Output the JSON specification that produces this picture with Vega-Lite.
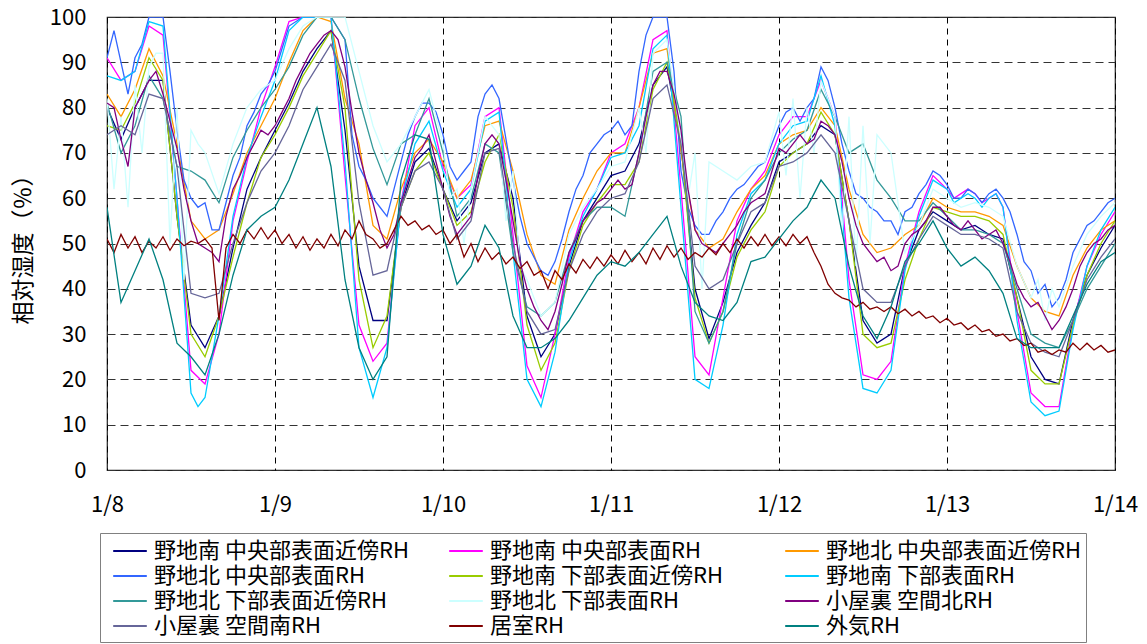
{
"$schema": "https://vega.github.io/schema/vega-lite/v6.json",
"width": 1008,
"height": 453,
"autosize": {"type": "none"},
"padding": {"left": 107, "top": 17, "right": 32, "bottom": 174},
"background": "#ffffff",
"config": {"font": "Noto Sans CJK JP", "view": {"stroke": "#222222", "strokeWidth": 1.2}, "axis": {"titleFontSize": 23, "labelFontSize": 22}},
"datasets": {
"names": [
{"k":"A","name":"野地南 中央部表面近傍RH"},
{"k":"B","name":"野地南 中央部表面RH"},
{"k":"C","name":"野地北 中央部表面近傍RH"},
{"k":"D","name":"野地北 中央部表面RH"},
{"k":"E","name":"野地南 下部表面近傍RH"},
{"k":"F","name":"野地南 下部表面RH"},
{"k":"G","name":"野地北 下部表面近傍RH"},
{"k":"H","name":"野地北 下部表面RH"},
{"k":"I","name":"小屋裏 空間北RH"},
{"k":"J","name":"小屋裏 空間南RH"},
{"k":"K","name":"居室RH"},
{"k":"L","name":"外気RH"}
]
},
"data": {"values": [
{"k":"A","t":0,"v":80},{"k":"A","t":2,"v":73},{"k":"A","t":4,"v":80},{"k":"A","t":6,"v":86},{"k":"A","t":8,"v":86},{"k":"A","t":10,"v":56},{"k":"A","t":12,"v":32},{"k":"A","t":14,"v":27},{"k":"A","t":16,"v":34},{"k":"A","t":18,"v":49},{"k":"A","t":20,"v":62},{"k":"A","t":22,"v":69},
{"k":"A","t":24,"v":75},{"k":"A","t":26,"v":81},{"k":"A","t":28,"v":88},{"k":"A","t":30,"v":93},{"k":"A","t":32,"v":97},{"k":"A","t":34,"v":75},{"k":"A","t":36,"v":45},{"k":"A","t":38,"v":33},{"k":"A","t":40,"v":33},{"k":"A","t":42,"v":58},{"k":"A","t":44,"v":68},{"k":"A","t":46,"v":71},
{"k":"A","t":48,"v":62},{"k":"A","t":50,"v":55},{"k":"A","t":52,"v":59},{"k":"A","t":54,"v":70},{"k":"A","t":56,"v":72},{"k":"A","t":58,"v":60},{"k":"A","t":60,"v":34},{"k":"A","t":62,"v":25},{"k":"A","t":64,"v":30},{"k":"A","t":66,"v":45},{"k":"A","t":68,"v":55},{"k":"A","t":70,"v":60},
{"k":"A","t":72,"v":65},{"k":"A","t":74,"v":66},{"k":"A","t":76,"v":72},{"k":"A","t":78,"v":85},{"k":"A","t":80,"v":89},{"k":"A","t":82,"v":72},{"k":"A","t":84,"v":40},{"k":"A","t":86,"v":29},{"k":"A","t":88,"v":37},{"k":"A","t":90,"v":48},{"k":"A","t":92,"v":54},{"k":"A","t":94,"v":59},
{"k":"A","t":96,"v":68},{"k":"A","t":98,"v":70},{"k":"A","t":100,"v":72},{"k":"A","t":102,"v":76},{"k":"A","t":104,"v":74},{"k":"A","t":106,"v":55},{"k":"A","t":108,"v":33},{"k":"A","t":110,"v":28},{"k":"A","t":112,"v":30},{"k":"A","t":114,"v":45},{"k":"A","t":116,"v":53},{"k":"A","t":118,"v":57},
{"k":"A","t":120,"v":55},{"k":"A","t":122,"v":53},{"k":"A","t":124,"v":54},{"k":"A","t":126,"v":52},{"k":"A","t":128,"v":51},{"k":"A","t":130,"v":38},{"k":"A","t":132,"v":25},{"k":"A","t":134,"v":20},{"k":"A","t":136,"v":19},{"k":"A","t":138,"v":33},{"k":"A","t":140,"v":43},{"k":"A","t":142,"v":49},{"k":"A","t":144,"v":54},

{"k":"B","t":0,"v":91},{"k":"B","t":2,"v":86},{"k":"B","t":4,"v":88},{"k":"B","t":6,"v":98},{"k":"B","t":8,"v":96},{"k":"B","t":10,"v":60},{"k":"B","t":12,"v":22},{"k":"B","t":14,"v":19},{"k":"B","t":16,"v":30},{"k":"B","t":18,"v":55},{"k":"B","t":20,"v":68},{"k":"B","t":22,"v":80},
{"k":"B","t":24,"v":89},{"k":"B","t":26,"v":99},{"k":"B","t":28,"v":100},{"k":"B","t":30,"v":100},{"k":"B","t":32,"v":100},{"k":"B","t":34,"v":65},{"k":"B","t":36,"v":32},{"k":"B","t":38,"v":24},{"k":"B","t":40,"v":28},{"k":"B","t":42,"v":59},{"k":"B","t":44,"v":76},{"k":"B","t":46,"v":80},
{"k":"B","t":48,"v":67},{"k":"B","t":50,"v":60},{"k":"B","t":52,"v":63},{"k":"B","t":54,"v":78},{"k":"B","t":56,"v":80},{"k":"B","t":58,"v":52},{"k":"B","t":60,"v":23},{"k":"B","t":62,"v":16},{"k":"B","t":64,"v":30},{"k":"B","t":66,"v":47},{"k":"B","t":68,"v":57},{"k":"B","t":70,"v":62},
{"k":"B","t":72,"v":70},{"k":"B","t":74,"v":72},{"k":"B","t":76,"v":80},{"k":"B","t":78,"v":95},{"k":"B","t":80,"v":97},{"k":"B","t":82,"v":62},{"k":"B","t":84,"v":25},{"k":"B","t":86,"v":21},{"k":"B","t":88,"v":38},{"k":"B","t":90,"v":55},{"k":"B","t":92,"v":62},{"k":"B","t":94,"v":66},
{"k":"B","t":96,"v":74},{"k":"B","t":98,"v":78},{"k":"B","t":100,"v":78},{"k":"B","t":102,"v":86},{"k":"B","t":104,"v":78},{"k":"B","t":106,"v":42},{"k":"B","t":108,"v":21},{"k":"B","t":110,"v":20},{"k":"B","t":112,"v":24},{"k":"B","t":114,"v":45},{"k":"B","t":116,"v":57},{"k":"B","t":118,"v":65},
{"k":"B","t":120,"v":62},{"k":"B","t":121,"v":60},{"k":"B","t":122,"v":61},{"k":"B","t":123,"v":62},{"k":"B","t":124,"v":61},{"k":"B","t":125,"v":59},{"k":"B","t":126,"v":60},{"k":"B","t":127,"v":61},{"k":"B","t":128,"v":58},{"k":"B","t":130,"v":35},{"k":"B","t":132,"v":17},{"k":"B","t":134,"v":14},{"k":"B","t":136,"v":14},{"k":"B","t":138,"v":32},{"k":"B","t":140,"v":45},{"k":"B","t":142,"v":52},{"k":"B","t":144,"v":57},

{"k":"C","t":0,"v":83},{"k":"C","t":2,"v":78},{"k":"C","t":4,"v":84},{"k":"C","t":6,"v":93},{"k":"C","t":8,"v":87},{"k":"C","t":10,"v":72},{"k":"C","t":12,"v":55},{"k":"C","t":14,"v":51},{"k":"C","t":16,"v":53},{"k":"C","t":18,"v":61},{"k":"C","t":20,"v":70},{"k":"C","t":22,"v":76},
{"k":"C","t":24,"v":82},{"k":"C","t":26,"v":90},{"k":"C","t":28,"v":97},{"k":"C","t":30,"v":100},{"k":"C","t":32,"v":99},{"k":"C","t":34,"v":82},{"k":"C","t":36,"v":72},{"k":"C","t":38,"v":54},{"k":"C","t":40,"v":51},{"k":"C","t":42,"v":62},{"k":"C","t":44,"v":70},{"k":"C","t":46,"v":73},
{"k":"C","t":48,"v":68},{"k":"C","t":50,"v":60},{"k":"C","t":52,"v":64},{"k":"C","t":54,"v":76},{"k":"C","t":56,"v":77},{"k":"C","t":58,"v":66},{"k":"C","t":60,"v":52},{"k":"C","t":62,"v":43},{"k":"C","t":64,"v":41},{"k":"C","t":66,"v":53},{"k":"C","t":68,"v":60},{"k":"C","t":70,"v":66},
{"k":"C","t":72,"v":70},{"k":"C","t":74,"v":70},{"k":"C","t":76,"v":80},{"k":"C","t":78,"v":92},{"k":"C","t":80,"v":93},{"k":"C","t":82,"v":70},{"k":"C","t":84,"v":53},{"k":"C","t":86,"v":49},{"k":"C","t":88,"v":51},{"k":"C","t":90,"v":57},{"k":"C","t":92,"v":62},{"k":"C","t":94,"v":65},
{"k":"C","t":96,"v":72},{"k":"C","t":98,"v":74},{"k":"C","t":100,"v":75},{"k":"C","t":102,"v":80},{"k":"C","t":104,"v":76},{"k":"C","t":106,"v":62},{"k":"C","t":108,"v":52},{"k":"C","t":110,"v":48},{"k":"C","t":112,"v":49},{"k":"C","t":114,"v":52},{"k":"C","t":116,"v":54},{"k":"C","t":118,"v":60},
{"k":"C","t":120,"v":58},{"k":"C","t":122,"v":57},{"k":"C","t":124,"v":57},{"k":"C","t":126,"v":56},{"k":"C","t":128,"v":54},{"k":"C","t":130,"v":45},{"k":"C","t":132,"v":38},{"k":"C","t":134,"v":35},{"k":"C","t":136,"v":34},{"k":"C","t":138,"v":43},{"k":"C","t":140,"v":49},{"k":"C","t":142,"v":53},{"k":"C","t":144,"v":55},

{"k":"D","t":0,"v":91},{"k":"D","t":1,"v":97},{"k":"D","t":2,"v":90},{"k":"D","t":3,"v":83},{"k":"D","t":4,"v":91},{"k":"D","t":5,"v":94},{"k":"D","t":6,"v":100},{"k":"D","t":7,"v":100},{"k":"D","t":8,"v":100},{"k":"D","t":9,"v":88},{"k":"D","t":10,"v":75},{"k":"D","t":11,"v":64},{"k":"D","t":12,"v":60},{"k":"D","t":13,"v":58},{"k":"D","t":14,"v":59},{"k":"D","t":15,"v":53},{"k":"D","t":16,"v":53},{"k":"D","t":17,"v":59},{"k":"D","t":18,"v":65},{"k":"D","t":19,"v":69},{"k":"D","t":20,"v":76},{"k":"D","t":21,"v":79},{"k":"D","t":22,"v":83},{"k":"D","t":23,"v":85},
{"k":"D","t":24,"v":88},{"k":"D","t":25,"v":93},{"k":"D","t":26,"v":98},{"k":"D","t":28,"v":100},{"k":"D","t":30,"v":100},{"k":"D","t":32,"v":100},{"k":"D","t":34,"v":95},{"k":"D","t":35,"v":74},{"k":"D","t":36,"v":67},{"k":"D","t":37,"v":64},{"k":"D","t":38,"v":60},{"k":"D","t":39,"v":58},{"k":"D","t":40,"v":56},{"k":"D","t":41,"v":62},{"k":"D","t":42,"v":68},{"k":"D","t":43,"v":74},{"k":"D","t":44,"v":78},{"k":"D","t":45,"v":81},{"k":"D","t":46,"v":81},{"k":"D","t":47,"v":79},
{"k":"D","t":48,"v":74},{"k":"D","t":49,"v":67},{"k":"D","t":50,"v":64},{"k":"D","t":51,"v":66},{"k":"D","t":52,"v":68},{"k":"D","t":53,"v":78},{"k":"D","t":54,"v":83},{"k":"D","t":55,"v":85},{"k":"D","t":56,"v":82},{"k":"D","t":57,"v":73},{"k":"D","t":58,"v":64},{"k":"D","t":59,"v":56},{"k":"D","t":60,"v":50},{"k":"D","t":61,"v":47},{"k":"D","t":62,"v":44},{"k":"D","t":63,"v":43},{"k":"D","t":64,"v":46},{"k":"D","t":65,"v":51},{"k":"D","t":66,"v":57},{"k":"D","t":67,"v":62},{"k":"D","t":68,"v":65},{"k":"D","t":69,"v":70},{"k":"D","t":70,"v":72},{"k":"D","t":71,"v":74},
{"k":"D","t":72,"v":75},{"k":"D","t":73,"v":77},{"k":"D","t":74,"v":74},{"k":"D","t":75,"v":76},{"k":"D","t":76,"v":88},{"k":"D","t":77,"v":96},{"k":"D","t":78,"v":100},{"k":"D","t":80,"v":100},{"k":"D","t":81,"v":88},{"k":"D","t":82,"v":66},{"k":"D","t":83,"v":58},{"k":"D","t":84,"v":54},{"k":"D","t":85,"v":52},{"k":"D","t":86,"v":52},{"k":"D","t":87,"v":55},{"k":"D","t":88,"v":57},{"k":"D","t":89,"v":60},{"k":"D","t":90,"v":62},{"k":"D","t":91,"v":63},{"k":"D","t":92,"v":65},{"k":"D","t":93,"v":67},{"k":"D","t":94,"v":68},{"k":"D","t":95,"v":72},
{"k":"D","t":96,"v":76},{"k":"D","t":97,"v":79},{"k":"D","t":98,"v":80},{"k":"D","t":99,"v":77},{"k":"D","t":100,"v":80},{"k":"D","t":101,"v":82},{"k":"D","t":102,"v":89},{"k":"D","t":103,"v":86},{"k":"D","t":104,"v":80},{"k":"D","t":105,"v":72},{"k":"D","t":106,"v":66},{"k":"D","t":107,"v":61},{"k":"D","t":108,"v":60},{"k":"D","t":109,"v":58},{"k":"D","t":110,"v":57},{"k":"D","t":111,"v":55},{"k":"D","t":112,"v":55},{"k":"D","t":113,"v":52},{"k":"D","t":114,"v":57},{"k":"D","t":115,"v":58},{"k":"D","t":116,"v":61},{"k":"D","t":117,"v":63},{"k":"D","t":118,"v":66},{"k":"D","t":119,"v":65},
{"k":"D","t":120,"v":63},{"k":"D","t":121,"v":60},{"k":"D","t":122,"v":60},{"k":"D","t":123,"v":62},{"k":"D","t":124,"v":61},{"k":"D","t":125,"v":59},{"k":"D","t":126,"v":61},{"k":"D","t":127,"v":62},{"k":"D","t":128,"v":60},{"k":"D","t":129,"v":57},{"k":"D","t":130,"v":52},{"k":"D","t":131,"v":46},{"k":"D","t":132,"v":44},{"k":"D","t":133,"v":39},{"k":"D","t":134,"v":41},{"k":"D","t":135,"v":36},{"k":"D","t":136,"v":38},{"k":"D","t":137,"v":42},{"k":"D","t":138,"v":48},{"k":"D","t":139,"v":51},{"k":"D","t":140,"v":54},{"k":"D","t":141,"v":55},{"k":"D","t":142,"v":57},{"k":"D","t":143,"v":59},{"k":"D","t":144,"v":60},

{"k":"E","t":0,"v":76},{"k":"E","t":2,"v":75},{"k":"E","t":4,"v":81},{"k":"E","t":6,"v":91},{"k":"E","t":8,"v":86},{"k":"E","t":10,"v":56},{"k":"E","t":12,"v":30},{"k":"E","t":14,"v":25},{"k":"E","t":16,"v":34},{"k":"E","t":18,"v":47},{"k":"E","t":20,"v":59},{"k":"E","t":22,"v":69},
{"k":"E","t":24,"v":74},{"k":"E","t":26,"v":80},{"k":"E","t":28,"v":87},{"k":"E","t":30,"v":92},{"k":"E","t":32,"v":97},{"k":"E","t":34,"v":80},{"k":"E","t":36,"v":42},{"k":"E","t":38,"v":27},{"k":"E","t":40,"v":34},{"k":"E","t":42,"v":58},{"k":"E","t":44,"v":66},{"k":"E","t":46,"v":70},
{"k":"E","t":48,"v":62},{"k":"E","t":50,"v":54},{"k":"E","t":52,"v":57},{"k":"E","t":54,"v":68},{"k":"E","t":56,"v":74},{"k":"E","t":58,"v":58},{"k":"E","t":60,"v":32},{"k":"E","t":62,"v":22},{"k":"E","t":64,"v":28},{"k":"E","t":66,"v":44},{"k":"E","t":68,"v":54},{"k":"E","t":70,"v":59},
{"k":"E","t":72,"v":63},{"k":"E","t":74,"v":63},{"k":"E","t":76,"v":68},{"k":"E","t":78,"v":84},{"k":"E","t":80,"v":90},{"k":"E","t":82,"v":72},{"k":"E","t":84,"v":38},{"k":"E","t":86,"v":28},{"k":"E","t":88,"v":35},{"k":"E","t":90,"v":47},{"k":"E","t":92,"v":53},{"k":"E","t":94,"v":57},
{"k":"E","t":96,"v":67},{"k":"E","t":98,"v":70},{"k":"E","t":100,"v":72},{"k":"E","t":102,"v":79},{"k":"E","t":104,"v":74},{"k":"E","t":106,"v":55},{"k":"E","t":108,"v":30},{"k":"E","t":110,"v":27},{"k":"E","t":112,"v":28},{"k":"E","t":114,"v":42},{"k":"E","t":116,"v":51},{"k":"E","t":118,"v":58},
{"k":"E","t":120,"v":57},{"k":"E","t":122,"v":56},{"k":"E","t":124,"v":56},{"k":"E","t":126,"v":55},{"k":"E","t":128,"v":52},{"k":"E","t":130,"v":38},{"k":"E","t":132,"v":22},{"k":"E","t":134,"v":19},{"k":"E","t":136,"v":19},{"k":"E","t":138,"v":32},{"k":"E","t":140,"v":43},{"k":"E","t":142,"v":50},{"k":"E","t":144,"v":55},

{"k":"F","t":0,"v":87},{"k":"F","t":2,"v":86},{"k":"F","t":4,"v":88},{"k":"F","t":6,"v":99},{"k":"F","t":8,"v":98},{"k":"F","t":10,"v":60},{"k":"F","t":12,"v":17},{"k":"F","t":13,"v":14},{"k":"F","t":14,"v":16},{"k":"F","t":16,"v":34},{"k":"F","t":18,"v":56},{"k":"F","t":20,"v":69},{"k":"F","t":22,"v":78},
{"k":"F","t":24,"v":86},{"k":"F","t":26,"v":97},{"k":"F","t":28,"v":100},{"k":"F","t":30,"v":100},{"k":"F","t":32,"v":100},{"k":"F","t":34,"v":68},{"k":"F","t":36,"v":27},{"k":"F","t":38,"v":16},{"k":"F","t":40,"v":27},{"k":"F","t":42,"v":59},{"k":"F","t":44,"v":72},{"k":"F","t":46,"v":77},
{"k":"F","t":48,"v":66},{"k":"F","t":50,"v":58},{"k":"F","t":52,"v":62},{"k":"F","t":54,"v":77},{"k":"F","t":56,"v":79},{"k":"F","t":58,"v":48},{"k":"F","t":60,"v":20},{"k":"F","t":62,"v":14},{"k":"F","t":64,"v":26},{"k":"F","t":66,"v":46},{"k":"F","t":68,"v":56},{"k":"F","t":70,"v":62},
{"k":"F","t":72,"v":69},{"k":"F","t":74,"v":70},{"k":"F","t":76,"v":76},{"k":"F","t":78,"v":93},{"k":"F","t":80,"v":96},{"k":"F","t":82,"v":58},{"k":"F","t":84,"v":20},{"k":"F","t":86,"v":18},{"k":"F","t":88,"v":32},{"k":"F","t":90,"v":52},{"k":"F","t":92,"v":61},{"k":"F","t":94,"v":64},
{"k":"F","t":96,"v":72},{"k":"F","t":98,"v":76},{"k":"F","t":100,"v":77},{"k":"F","t":102,"v":87},{"k":"F","t":104,"v":76},{"k":"F","t":106,"v":38},{"k":"F","t":108,"v":18},{"k":"F","t":110,"v":17},{"k":"F","t":112,"v":22},{"k":"F","t":114,"v":44},{"k":"F","t":116,"v":56},{"k":"F","t":118,"v":64},
{"k":"F","t":120,"v":62},{"k":"F","t":121,"v":59},{"k":"F","t":122,"v":60},{"k":"F","t":123,"v":61},{"k":"F","t":124,"v":60},{"k":"F","t":125,"v":58},{"k":"F","t":126,"v":60},{"k":"F","t":127,"v":61},{"k":"F","t":128,"v":58},{"k":"F","t":130,"v":33},{"k":"F","t":132,"v":15},{"k":"F","t":134,"v":12},{"k":"F","t":136,"v":13},{"k":"F","t":138,"v":31},{"k":"F","t":140,"v":45},{"k":"F","t":142,"v":53},{"k":"F","t":144,"v":58},

{"k":"G","t":0,"v":81},{"k":"G","t":2,"v":70},{"k":"G","t":4,"v":76},{"k":"G","t":6,"v":87},{"k":"G","t":8,"v":82},{"k":"G","t":10,"v":67},{"k":"G","t":12,"v":66},{"k":"G","t":14,"v":64},{"k":"G","t":16,"v":59},{"k":"G","t":18,"v":69},{"k":"G","t":20,"v":75},{"k":"G","t":22,"v":80},
{"k":"G","t":24,"v":84},{"k":"G","t":26,"v":89},{"k":"G","t":28,"v":96},{"k":"G","t":30,"v":100},{"k":"G","t":32,"v":100},{"k":"G","t":34,"v":95},{"k":"G","t":36,"v":82},{"k":"G","t":38,"v":71},{"k":"G","t":40,"v":63},{"k":"G","t":42,"v":72},{"k":"G","t":44,"v":74},{"k":"G","t":46,"v":82},
{"k":"G","t":48,"v":70},{"k":"G","t":50,"v":56},{"k":"G","t":52,"v":60},{"k":"G","t":54,"v":72},{"k":"G","t":56,"v":70},{"k":"G","t":58,"v":48},{"k":"G","t":60,"v":36},{"k":"G","t":62,"v":34},{"k":"G","t":64,"v":37},{"k":"G","t":66,"v":48},{"k":"G","t":68,"v":55},{"k":"G","t":70,"v":58},
{"k":"G","t":72,"v":58},{"k":"G","t":74,"v":56},{"k":"G","t":76,"v":70},{"k":"G","t":78,"v":88},{"k":"G","t":80,"v":90},{"k":"G","t":82,"v":78},{"k":"G","t":84,"v":35},{"k":"G","t":86,"v":28},{"k":"G","t":88,"v":35},{"k":"G","t":90,"v":50},{"k":"G","t":92,"v":60},{"k":"G","t":94,"v":64},
{"k":"G","t":96,"v":70},{"k":"G","t":98,"v":73},{"k":"G","t":100,"v":75},{"k":"G","t":102,"v":84},{"k":"G","t":104,"v":78},{"k":"G","t":106,"v":70},{"k":"G","t":108,"v":72},{"k":"G","t":110,"v":64},{"k":"G","t":112,"v":60},{"k":"G","t":114,"v":55},{"k":"G","t":116,"v":55},{"k":"G","t":118,"v":59},
{"k":"G","t":120,"v":56},{"k":"G","t":122,"v":53},{"k":"G","t":124,"v":53},{"k":"G","t":126,"v":52},{"k":"G","t":128,"v":50},{"k":"G","t":130,"v":40},{"k":"G","t":132,"v":30},{"k":"G","t":134,"v":28},{"k":"G","t":136,"v":27},{"k":"G","t":138,"v":33},{"k":"G","t":140,"v":40},{"k":"G","t":142,"v":45},{"k":"G","t":144,"v":50},

{"k":"H","t":0,"v":82},{"k":"H","t":1,"v":62},{"k":"H","t":2,"v":78},{"k":"H","t":3,"v":58},{"k":"H","t":4,"v":85},{"k":"H","t":5,"v":70},{"k":"H","t":6,"v":89},{"k":"H","t":7,"v":92},{"k":"H","t":8,"v":92},{"k":"H","t":9,"v":50},{"k":"H","t":10,"v":80},{"k":"H","t":11,"v":42},{"k":"H","t":12,"v":75},{"k":"H","t":13,"v":72},{"k":"H","t":14,"v":70},{"k":"H","t":16,"v":61},{"k":"H","t":18,"v":72},{"k":"H","t":20,"v":80},{"k":"H","t":22,"v":84},
{"k":"H","t":24,"v":86},{"k":"H","t":26,"v":93},{"k":"H","t":28,"v":98},{"k":"H","t":30,"v":100},{"k":"H","t":32,"v":100},{"k":"H","t":34,"v":100},{"k":"H","t":36,"v":88},{"k":"H","t":38,"v":76},{"k":"H","t":40,"v":68},{"k":"H","t":42,"v":72},{"k":"H","t":44,"v":78},{"k":"H","t":46,"v":84},
{"k":"H","t":48,"v":72},{"k":"H","t":49,"v":60},{"k":"H","t":50,"v":62},{"k":"H","t":51,"v":50},{"k":"H","t":52,"v":62},{"k":"H","t":54,"v":78},{"k":"H","t":56,"v":74},{"k":"H","t":57,"v":55},{"k":"H","t":58,"v":66},{"k":"H","t":59,"v":45},{"k":"H","t":60,"v":42},{"k":"H","t":62,"v":34},{"k":"H","t":64,"v":37},{"k":"H","t":66,"v":52},{"k":"H","t":68,"v":58},{"k":"H","t":70,"v":62},
{"k":"H","t":72,"v":67},{"k":"H","t":74,"v":68},{"k":"H","t":76,"v":80},{"k":"H","t":77,"v":70},{"k":"H","t":78,"v":92},{"k":"H","t":80,"v":95},{"k":"H","t":82,"v":73},{"k":"H","t":83,"v":60},{"k":"H","t":84,"v":70},{"k":"H","t":85,"v":40},{"k":"H","t":86,"v":68},{"k":"H","t":88,"v":66},{"k":"H","t":90,"v":64},{"k":"H","t":92,"v":67},{"k":"H","t":94,"v":68},
{"k":"H","t":96,"v":79},{"k":"H","t":97,"v":65},{"k":"H","t":98,"v":82},{"k":"H","t":99,"v":60},{"k":"H","t":100,"v":80},{"k":"H","t":101,"v":70},{"k":"H","t":102,"v":86},{"k":"H","t":104,"v":78},{"k":"H","t":105,"v":52},{"k":"H","t":106,"v":78},{"k":"H","t":107,"v":45},{"k":"H","t":108,"v":76},{"k":"H","t":109,"v":50},{"k":"H","t":110,"v":74},{"k":"H","t":112,"v":70},{"k":"H","t":114,"v":48},{"k":"H","t":116,"v":54},{"k":"H","t":118,"v":62},
{"k":"H","t":120,"v":60},{"k":"H","t":122,"v":58},{"k":"H","t":124,"v":59},{"k":"H","t":126,"v":58},{"k":"H","t":128,"v":56},{"k":"H","t":130,"v":45},{"k":"H","t":132,"v":38},{"k":"H","t":133,"v":42},{"k":"H","t":134,"v":33},{"k":"H","t":135,"v":40},{"k":"H","t":136,"v":36},{"k":"H","t":138,"v":45},{"k":"H","t":140,"v":52},{"k":"H","t":142,"v":56},{"k":"H","t":144,"v":59},

{"k":"I","t":0,"v":81},{"k":"I","t":1,"v":80},{"k":"I","t":2,"v":73},{"k":"I","t":3,"v":67},{"k":"I","t":4,"v":80},{"k":"I","t":5,"v":83},{"k":"I","t":6,"v":86},{"k":"I","t":7,"v":88},{"k":"I","t":8,"v":83},{"k":"I","t":9,"v":77},{"k":"I","t":10,"v":71},{"k":"I","t":11,"v":62},{"k":"I","t":12,"v":55},{"k":"I","t":13,"v":50},{"k":"I","t":14,"v":49},{"k":"I","t":15,"v":48},{"k":"I","t":16,"v":46},{"k":"I","t":17,"v":56},{"k":"I","t":18,"v":62},{"k":"I","t":19,"v":65},{"k":"I","t":20,"v":69},{"k":"I","t":21,"v":72},{"k":"I","t":22,"v":75},{"k":"I","t":23,"v":74},
{"k":"I","t":24,"v":76},{"k":"I","t":25,"v":79},{"k":"I","t":26,"v":82},{"k":"I","t":27,"v":86},{"k":"I","t":28,"v":89},{"k":"I","t":29,"v":92},{"k":"I","t":30,"v":94},{"k":"I","t":31,"v":96},{"k":"I","t":32,"v":97},{"k":"I","t":33,"v":95},{"k":"I","t":34,"v":89},{"k":"I","t":35,"v":79},{"k":"I","t":36,"v":70},{"k":"I","t":37,"v":64},{"k":"I","t":38,"v":59},{"k":"I","t":39,"v":53},{"k":"I","t":40,"v":49},{"k":"I","t":41,"v":52},{"k":"I","t":42,"v":59},{"k":"I","t":43,"v":64},{"k":"I","t":44,"v":69},{"k":"I","t":45,"v":71},{"k":"I","t":46,"v":74},{"k":"I","t":47,"v":68},
{"k":"I","t":48,"v":62},{"k":"I","t":49,"v":56},{"k":"I","t":50,"v":52},{"k":"I","t":51,"v":54},{"k":"I","t":52,"v":56},{"k":"I","t":53,"v":65},{"k":"I","t":54,"v":72},{"k":"I","t":55,"v":74},{"k":"I","t":56,"v":72},{"k":"I","t":57,"v":64},{"k":"I","t":58,"v":55},{"k":"I","t":59,"v":46},{"k":"I","t":60,"v":40},{"k":"I","t":61,"v":36},{"k":"I","t":62,"v":33},{"k":"I","t":63,"v":31},{"k":"I","t":64,"v":35},{"k":"I","t":65,"v":41},{"k":"I","t":66,"v":48},{"k":"I","t":67,"v":51},{"k":"I","t":68,"v":55},{"k":"I","t":69,"v":57},{"k":"I","t":70,"v":59},{"k":"I","t":71,"v":60},
{"k":"I","t":72,"v":62},{"k":"I","t":73,"v":64},{"k":"I","t":74,"v":62},{"k":"I","t":75,"v":63},{"k":"I","t":76,"v":70},{"k":"I","t":77,"v":78},{"k":"I","t":78,"v":85},{"k":"I","t":79,"v":88},{"k":"I","t":80,"v":88},{"k":"I","t":81,"v":83},{"k":"I","t":82,"v":75},{"k":"I","t":83,"v":62},{"k":"I","t":84,"v":53},{"k":"I","t":85,"v":50},{"k":"I","t":86,"v":49},{"k":"I","t":87,"v":48},{"k":"I","t":88,"v":50},{"k":"I","t":89,"v":52},{"k":"I","t":90,"v":54},{"k":"I","t":91,"v":57},{"k":"I","t":92,"v":59},{"k":"I","t":93,"v":60},{"k":"I","t":94,"v":61},{"k":"I","t":95,"v":66},
{"k":"I","t":96,"v":71},{"k":"I","t":97,"v":70},{"k":"I","t":98,"v":72},{"k":"I","t":99,"v":74},{"k":"I","t":100,"v":72},{"k":"I","t":101,"v":73},{"k":"I","t":102,"v":77},{"k":"I","t":103,"v":76},{"k":"I","t":104,"v":74},{"k":"I","t":105,"v":68},{"k":"I","t":106,"v":60},{"k":"I","t":107,"v":54},{"k":"I","t":108,"v":50},{"k":"I","t":109,"v":48},{"k":"I","t":110,"v":46},{"k":"I","t":111,"v":47},{"k":"I","t":112,"v":44},{"k":"I","t":113,"v":45},{"k":"I","t":114,"v":50},{"k":"I","t":115,"v":52},{"k":"I","t":116,"v":53},{"k":"I","t":117,"v":55},{"k":"I","t":118,"v":58},{"k":"I","t":119,"v":58},
{"k":"I","t":120,"v":56},{"k":"I","t":121,"v":54},{"k":"I","t":122,"v":53},{"k":"I","t":123,"v":55},{"k":"I","t":124,"v":53},{"k":"I","t":125,"v":51},{"k":"I","t":126,"v":52},{"k":"I","t":127,"v":53},{"k":"I","t":128,"v":50},{"k":"I","t":129,"v":46},{"k":"I","t":130,"v":41},{"k":"I","t":131,"v":38},{"k":"I","t":132,"v":36},{"k":"I","t":133,"v":37},{"k":"I","t":134,"v":34},{"k":"I","t":135,"v":31},{"k":"I","t":136,"v":33},{"k":"I","t":137,"v":36},{"k":"I","t":138,"v":40},{"k":"I","t":139,"v":45},{"k":"I","t":140,"v":48},{"k":"I","t":141,"v":50},{"k":"I","t":142,"v":51},{"k":"I","t":143,"v":53},{"k":"I","t":144,"v":54},

{"k":"J","t":0,"v":74},{"k":"J","t":2,"v":76},{"k":"J","t":4,"v":74},{"k":"J","t":6,"v":83},{"k":"J","t":8,"v":82},{"k":"J","t":10,"v":67},{"k":"J","t":12,"v":39},{"k":"J","t":14,"v":38},{"k":"J","t":16,"v":39},{"k":"J","t":18,"v":50},{"k":"J","t":20,"v":59},{"k":"J","t":22,"v":66},
{"k":"J","t":24,"v":70},{"k":"J","t":26,"v":76},{"k":"J","t":28,"v":84},{"k":"J","t":30,"v":89},{"k":"J","t":32,"v":94},{"k":"J","t":34,"v":86},{"k":"J","t":36,"v":59},{"k":"J","t":38,"v":43},{"k":"J","t":40,"v":44},{"k":"J","t":42,"v":58},{"k":"J","t":44,"v":66},{"k":"J","t":46,"v":68},
{"k":"J","t":48,"v":62},{"k":"J","t":50,"v":51},{"k":"J","t":52,"v":55},{"k":"J","t":54,"v":70},{"k":"J","t":56,"v":71},{"k":"J","t":58,"v":50},{"k":"J","t":60,"v":35},{"k":"J","t":62,"v":30},{"k":"J","t":64,"v":31},{"k":"J","t":66,"v":44},{"k":"J","t":68,"v":52},{"k":"J","t":70,"v":57},
{"k":"J","t":72,"v":60},{"k":"J","t":74,"v":61},{"k":"J","t":76,"v":68},{"k":"J","t":78,"v":82},{"k":"J","t":80,"v":85},{"k":"J","t":82,"v":72},{"k":"J","t":84,"v":45},{"k":"J","t":86,"v":40},{"k":"J","t":88,"v":42},{"k":"J","t":90,"v":50},{"k":"J","t":92,"v":57},{"k":"J","t":94,"v":59},
{"k":"J","t":96,"v":67},{"k":"J","t":98,"v":68},{"k":"J","t":100,"v":70},{"k":"J","t":102,"v":74},{"k":"J","t":104,"v":70},{"k":"J","t":106,"v":55},{"k":"J","t":108,"v":40},{"k":"J","t":110,"v":37},{"k":"J","t":112,"v":37},{"k":"J","t":114,"v":45},{"k":"J","t":116,"v":51},{"k":"J","t":118,"v":56},
{"k":"J","t":120,"v":54},{"k":"J","t":122,"v":52},{"k":"J","t":124,"v":52},{"k":"J","t":126,"v":51},{"k":"J","t":128,"v":49},{"k":"J","t":130,"v":35},{"k":"J","t":132,"v":28},{"k":"J","t":134,"v":26},{"k":"J","t":136,"v":25},{"k":"J","t":138,"v":33},{"k":"J","t":140,"v":42},{"k":"J","t":142,"v":47},{"k":"J","t":144,"v":51},

{"k":"K","t":0,"v":51},{"k":"K","t":1,"v":48},{"k":"K","t":2,"v":52},{"k":"K","t":3,"v":49},{"k":"K","t":4,"v":51.5},{"k":"K","t":5,"v":48},{"k":"K","t":6,"v":50.5},{"k":"K","t":7,"v":49},{"k":"K","t":8,"v":51.5},{"k":"K","t":9,"v":48.5},{"k":"K","t":10,"v":51},{"k":"K","t":11,"v":49.5},{"k":"K","t":12,"v":50.5},{"k":"K","t":13,"v":50},{"k":"K","t":14,"v":51},{"k":"K","t":15,"v":49},{"k":"K","t":16,"v":33},{"k":"K","t":17,"v":49},{"k":"K","t":18,"v":52},{"k":"K","t":19,"v":50},{"k":"K","t":20,"v":53},{"k":"K","t":21,"v":51},{"k":"K","t":22,"v":53.5},{"k":"K","t":23,"v":51},
{"k":"K","t":24,"v":53},{"k":"K","t":25,"v":50},{"k":"K","t":26,"v":52},{"k":"K","t":27,"v":49},{"k":"K","t":28,"v":51.5},{"k":"K","t":29,"v":48.5},{"k":"K","t":30,"v":51},{"k":"K","t":31,"v":49},{"k":"K","t":32,"v":52},{"k":"K","t":33,"v":49.5},{"k":"K","t":34,"v":53},{"k":"K","t":35,"v":51},{"k":"K","t":36,"v":55},{"k":"K","t":37,"v":52},{"k":"K","t":38,"v":51},{"k":"K","t":39,"v":49},{"k":"K","t":40,"v":50},{"k":"K","t":41,"v":53},{"k":"K","t":42,"v":56},{"k":"K","t":43,"v":54},{"k":"K","t":44,"v":55},{"k":"K","t":45,"v":53},{"k":"K","t":46,"v":54},{"k":"K","t":47,"v":52},
{"k":"K","t":48,"v":53},{"k":"K","t":49,"v":50},{"k":"K","t":50,"v":52},{"k":"K","t":51,"v":47},{"k":"K","t":52,"v":50},{"k":"K","t":53,"v":46},{"k":"K","t":54,"v":49},{"k":"K","t":55,"v":46.5},{"k":"K","t":56,"v":48},{"k":"K","t":57,"v":45.5},{"k":"K","t":58,"v":47},{"k":"K","t":59,"v":44.5},{"k":"K","t":60,"v":46},{"k":"K","t":61,"v":43},{"k":"K","t":62,"v":44},{"k":"K","t":63,"v":40},{"k":"K","t":64,"v":44},{"k":"K","t":65,"v":42},{"k":"K","t":66,"v":45.5},{"k":"K","t":67,"v":43.5},{"k":"K","t":68,"v":46.5},{"k":"K","t":69,"v":44.5},{"k":"K","t":70,"v":47},{"k":"K","t":71,"v":45},
{"k":"K","t":72,"v":47.5},{"k":"K","t":73,"v":45.5},{"k":"K","t":74,"v":48.5},{"k":"K","t":75,"v":46},{"k":"K","t":76,"v":48},{"k":"K","t":77,"v":45.5},{"k":"K","t":78,"v":49},{"k":"K","t":79,"v":46.5},{"k":"K","t":80,"v":49.5},{"k":"K","t":81,"v":47},{"k":"K","t":82,"v":49},{"k":"K","t":83,"v":46.5},{"k":"K","t":84,"v":48},{"k":"K","t":85,"v":47},{"k":"K","t":86,"v":49},{"k":"K","t":87,"v":47.5},{"k":"K","t":88,"v":50},{"k":"K","t":89,"v":48},{"k":"K","t":90,"v":51},{"k":"K","t":91,"v":49},{"k":"K","t":92,"v":51.5},{"k":"K","t":93,"v":49.5},{"k":"K","t":94,"v":52},{"k":"K","t":95,"v":49.5},
{"k":"K","t":96,"v":51.5},{"k":"K","t":97,"v":49.5},{"k":"K","t":98,"v":52},{"k":"K","t":99,"v":50},{"k":"K","t":100,"v":51.5},{"k":"K","t":101,"v":48},{"k":"K","t":102,"v":45},{"k":"K","t":103,"v":41},{"k":"K","t":104,"v":39},{"k":"K","t":105,"v":38},{"k":"K","t":106,"v":37.5},{"k":"K","t":107,"v":36},{"k":"K","t":108,"v":37},{"k":"K","t":109,"v":35.5},{"k":"K","t":110,"v":36},{"k":"K","t":111,"v":35},{"k":"K","t":112,"v":36},{"k":"K","t":113,"v":34.5},{"k":"K","t":114,"v":35.5},{"k":"K","t":115,"v":34},{"k":"K","t":116,"v":35},{"k":"K","t":117,"v":33.5},{"k":"K","t":118,"v":34},{"k":"K","t":119,"v":32.5},
{"k":"K","t":120,"v":33.5},{"k":"K","t":121,"v":32},{"k":"K","t":122,"v":32.5},{"k":"K","t":123,"v":31},{"k":"K","t":124,"v":32},{"k":"K","t":125,"v":30.5},{"k":"K","t":126,"v":31},{"k":"K","t":127,"v":29.5},{"k":"K","t":128,"v":30},{"k":"K","t":129,"v":28.5},{"k":"K","t":130,"v":29},{"k":"K","t":131,"v":27.5},{"k":"K","t":132,"v":28},{"k":"K","t":133,"v":26},{"k":"K","t":134,"v":26.5},{"k":"K","t":135,"v":25.5},{"k":"K","t":136,"v":26.5},{"k":"K","t":137,"v":26},{"k":"K","t":138,"v":28},{"k":"K","t":139,"v":26.5},{"k":"K","t":140,"v":28},{"k":"K","t":141,"v":26.5},{"k":"K","t":142,"v":27.5},{"k":"K","t":143,"v":26},{"k":"K","t":144,"v":26.5},

{"k":"L","t":0,"v":58},{"k":"L","t":2,"v":37},{"k":"L","t":4,"v":44},{"k":"L","t":6,"v":51},{"k":"L","t":8,"v":42},{"k":"L","t":10,"v":28},{"k":"L","t":12,"v":25},{"k":"L","t":14,"v":21},{"k":"L","t":16,"v":30},{"k":"L","t":18,"v":43},{"k":"L","t":20,"v":53},{"k":"L","t":22,"v":56},
{"k":"L","t":24,"v":58},{"k":"L","t":26,"v":64},{"k":"L","t":28,"v":72},{"k":"L","t":30,"v":80},{"k":"L","t":32,"v":67},{"k":"L","t":34,"v":42},{"k":"L","t":36,"v":27},{"k":"L","t":38,"v":20},{"k":"L","t":40,"v":25},{"k":"L","t":42,"v":64},{"k":"L","t":44,"v":74},{"k":"L","t":46,"v":73},
{"k":"L","t":48,"v":52},{"k":"L","t":50,"v":41},{"k":"L","t":52,"v":45},{"k":"L","t":54,"v":54},{"k":"L","t":56,"v":49},{"k":"L","t":58,"v":34},{"k":"L","t":60,"v":27},{"k":"L","t":62,"v":27},{"k":"L","t":64,"v":29},{"k":"L","t":66,"v":33},{"k":"L","t":68,"v":38},{"k":"L","t":70,"v":43},
{"k":"L","t":72,"v":46},{"k":"L","t":74,"v":45},{"k":"L","t":76,"v":48},{"k":"L","t":78,"v":52},{"k":"L","t":80,"v":56},{"k":"L","t":82,"v":45},{"k":"L","t":84,"v":37},{"k":"L","t":86,"v":34},{"k":"L","t":88,"v":33},{"k":"L","t":90,"v":37},{"k":"L","t":92,"v":46},{"k":"L","t":94,"v":47},
{"k":"L","t":96,"v":51},{"k":"L","t":98,"v":55},{"k":"L","t":100,"v":58},{"k":"L","t":102,"v":64},{"k":"L","t":104,"v":60},{"k":"L","t":106,"v":45},{"k":"L","t":108,"v":34},{"k":"L","t":110,"v":29},{"k":"L","t":112,"v":36},{"k":"L","t":114,"v":46},{"k":"L","t":116,"v":50},{"k":"L","t":118,"v":55},
{"k":"L","t":120,"v":49},{"k":"L","t":122,"v":45},{"k":"L","t":124,"v":47},{"k":"L","t":126,"v":44},{"k":"L","t":128,"v":39},{"k":"L","t":130,"v":29},{"k":"L","t":132,"v":27},{"k":"L","t":134,"v":27},{"k":"L","t":136,"v":27},{"k":"L","t":138,"v":34},{"k":"L","t":140,"v":41},{"k":"L","t":142,"v":46},{"k":"L","t":144,"v":48}
]},
"transform": [{"lookup": "k", "from": {"data": {"name": "names"}, "key": "k", "fields": ["name"]}}],
"mark": {"type": "line", "strokeWidth": 1.3, "clip": true},
"encoding": {
"x": {"field": "t", "type": "quantitative",
"scale": {"domain": [0, 144], "nice": false, "zero": false},
"axis": {"values": [0, 24, 48, 72, 96, 120, 144], "labelExpr": "'1/' + (8 + datum.value / 24)", "title": null, "domain": false, "ticks": false, "grid": true, "gridColor": "#000000", "gridDash": [6, 5], "gridWidth": 1, "gridOpacity": 1, "labelFontSize": 22, "labelColor": "#000000", "labelPadding": 24, "labelFlush": false}},
"y": {"field": "v", "type": "quantitative",
"scale": {"domain": [0, 100], "nice": false},
"axis": {"values": [0, 10, 20, 30, 40, 50, 60, 70, 80, 90, 100], "title": "相対湿度（％）", "titleFontSize": 23, "titleFontWeight": "normal", "titleColor": "#000000", "titlePadding": 14, "domain": false, "ticks": false, "grid": true, "gridColor": "#333333", "gridDash": [8, 5], "gridWidth": 1, "gridOpacity": 1, "labelFontSize": 22, "labelColor": "#000000", "labelPadding": 21}},
"color": {"field": "name", "type": "nominal",
"scale": {
"domain": ["野地南 中央部表面近傍RH", "野地南 中央部表面RH", "野地北 中央部表面近傍RH", "野地北 中央部表面RH", "野地南 下部表面近傍RH", "野地南 下部表面RH", "野地北 下部表面近傍RH", "野地北 下部表面RH", "小屋裏 空間北RH", "小屋裏 空間南RH", "居室RH", "外気RH"],
"range": ["#000080", "#FF00FF", "#FF9900", "#3366FF", "#99CC00", "#00CCFF", "#339999", "#CCFFFF", "#800080", "#666699", "#800000", "#008080"]},
"legend": {"title": null, "orient": "none", "legendX": -7, "legendY": 516, "direction": "horizontal", "columns": 3, "gridAlign": "all", "symbolType": "M-1.4,0H1.4", "symbolSize": 576, "symbolStrokeWidth": 2, "symbolOffset": 12, "labelFontSize": 22, "labelColor": "#000000", "labelOffset": 11, "labelLimit": 500, "columnPadding": 32, "rowPadding": 1, "padding": 5, "strokeColor": "#808080", "fillColor": "#ffffff"}}
}
}
